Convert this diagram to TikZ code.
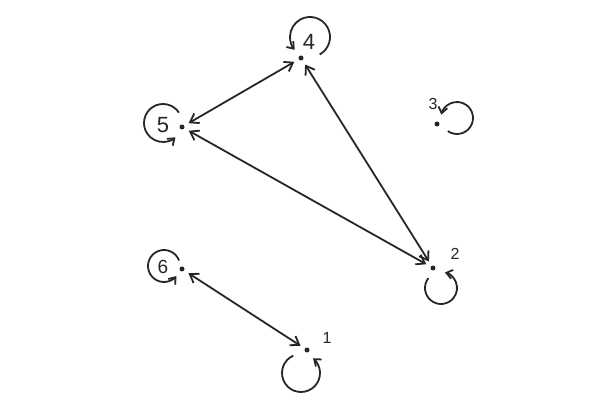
\documentclass[tikz,border=0pt]{standalone}
\usepackage{fontspec}
\setmainfont{Liberation Sans}
\usetikzlibrary{arrows.meta}
\definecolor{ink}{HTML}{262626}
\begin{document}
\begin{tikzpicture}[x=1pt,y=1pt,
  vtx/.style={circle,fill=ink,inner sep=0pt,minimum size=5pt},
  lbl/.style={text=ink,inner sep=0pt},
  big/.style={lbl,font=\fontsize{22}{24}\selectfont},
  small/.style={lbl,font=\fontsize{16}{18}\selectfont},
  edge/.style={draw=ink,line width=1.8pt,{Straight Barb[length=8pt,width=11pt]}-{Straight Barb[length=8pt,width=11pt]},shorten <=5pt,shorten >=5pt},
  selfloop/.style={draw=ink,line width=1.8pt,-{Straight Barb[length=6pt,width=9pt]}}]
\useasboundingbox (0,0) rectangle (601,409);
% vertices
\node[vtx] (n4) at (301,351) {};
\node[vtx] (n5) at (182,282) {};
\node[vtx] (n3) at (437,285) {};
\node[vtx] (n2) at (433,141) {};
\node[vtx] (n6) at (182,140) {};
\node[vtx] (n1) at (307,59) {};
% labels
\node[big] (l4) at (309,367) {4};
\node[big] (l5) at (163,284) {5};
\node[small] (l3) at (433,305) {3};
\node[small] (l2) at (455,155) {2};
\node[big,font=\fontsize{19}{21}\selectfont] (l6) at (163,142) {6};
\node[small] (l1) at (327,71) {1};
% self loops
\draw[selfloop] ([shift={(-61:20)}]310,372) arc[start angle=-61,end angle=220,radius=20];
\draw[selfloop] ([shift={(33:19)}]163,286) arc[start angle=33,end angle=311,radius=19];
\draw[selfloop] ([shift={(-125:16)}]457,291) arc[start angle=-125,end angle=168,radius=16];
\draw[selfloop] ([shift={(142:16)}]441,121) arc[start angle=142,end angle=436,radius=16];
\draw[selfloop] ([shift={(20:16)}]164,143) arc[start angle=20,end angle=321,radius=16];
\draw[selfloop] ([shift={(114:19)}]301,36) arc[start angle=114,end angle=411,radius=19];
% edges
\draw[edge] (n4) -- (n5);
\draw[edge] (n4) -- (n2);
\draw[edge] (n5) -- (n2);
\draw[edge] (n6) -- (n1);
\end{tikzpicture}
\end{document}
